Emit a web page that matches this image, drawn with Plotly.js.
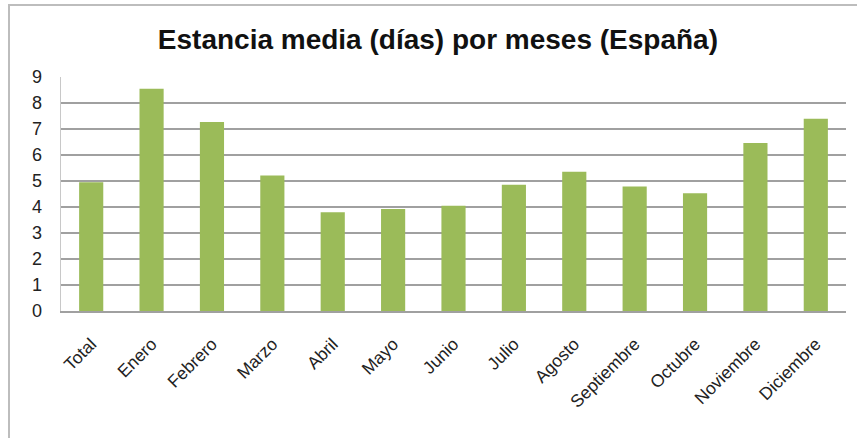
<!DOCTYPE html>
<html>
<head>
<meta charset="utf-8">
<script src="https://cdn.plot.ly/plotly-3.0.1.min.js"></script>
<style>
  html, body { margin: 0; padding: 0; background: #ffffff; }
  #chart { width: 857px; height: 438px; }
</style>
</head>
<body>
<div id="chart"></div>
<script>
const categories = ["Total", "Enero", "Febrero", "Marzo", "Abril", "Mayo", "Junio",
  "Julio", "Agosto", "Septiembre", "Octubre", "Noviembre", "Diciembre"];
const stayValues = [4.95, 8.55, 7.27, 5.21, 3.80, 3.92, 4.05, 4.86, 5.36, 4.79, 4.53, 6.46, 7.39];
const yTicks = [0, 1, 2, 3, 4, 5, 6, 7, 8, 9];
const chartTitle = "Estancia media (días) por meses (España)";

const fontFamily = "Liberation Sans, Arial, sans-serif";

const trace = {
  type: "bar",
  x: categories,
  y: stayValues,
  marker: { color: "#9bbb59", line: { width: 0 } },
  hoverinfo: "x+y"
};

const layout = {
  width: 857,
  height: 438,
  paper_bgcolor: "#ffffff",
  plot_bgcolor: "#ffffff",
  margin: { l: 61, r: 11, t: 77, b: 127, pad: 0 },
  bargap: 0.6,
  showlegend: false,
  title: {
    text: "<b>" + chartTitle + "</b>",
    font: { family: fontFamily, size: 28, color: "#111111" },
    x: 0.511,
    xanchor: "center",
    xref: "container",
    y: 1 - 39 / 438,
    yanchor: "middle",
    yref: "container"
  },
  xaxis: {
    type: "category",
    tickangle: -45,
    tickfont: { family: fontFamily, size: 17.5, color: "#222222" },
    showline: true,
    linecolor: "#a0a0a0",
    linewidth: 2,
    showgrid: false,
    ticks: "",
    zeroline: false,
    ticklabelstandoff: 14
  },
  yaxis: {
    range: [0, 9],
    tickvals: yTicks,
    ticktext: yTicks.map(String),
    tickfont: { family: fontFamily, size: 18, color: "#222222" },
    showgrid: true,
    gridcolor: "#a0a0a0",
    gridwidth: 2,
    showline: true,
    linecolor: "#c8c8c8",
    linewidth: 1.5,
    zeroline: false,
     ticks: "",
    ticklabelstandoff: 14
  },
  shapes: [{
    type: "rect",
    xref: "paper",
    yref: "paper",
    x0: (9 - 61) / 785,
    x1: 1.2,
    y0: -1.0,
    y1: (311 - 5) / 234,
    line: { color: "#bdbdbd", width: 2 },
    fillcolor: "rgba(0,0,0,0)",
    layer: "below"
  }]
};

Plotly.newPlot("chart", [trace], layout, { displayModeBar: false, staticPlot: true });
</script>
</body>
</html>
